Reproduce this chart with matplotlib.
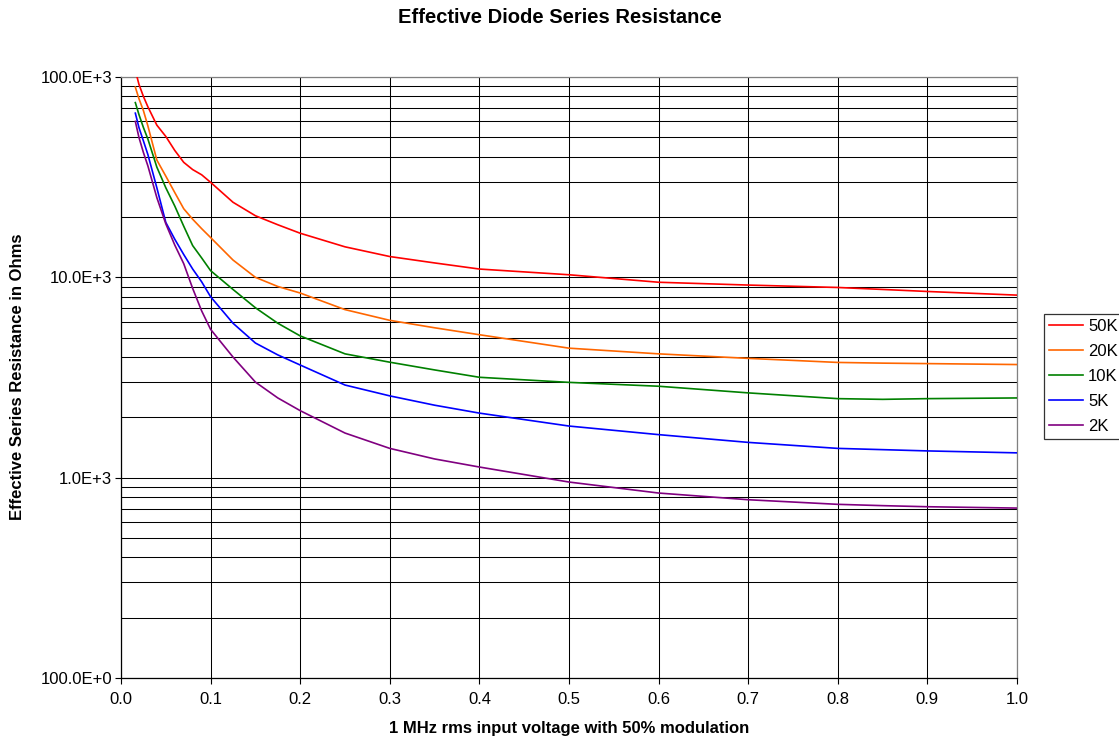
import matplotlib
matplotlib.use("Agg")
import matplotlib.pyplot as plt
from matplotlib.ticker import FixedLocator, FixedFormatter, NullFormatter

plt.rcParams['font.family'] = ['Liberation Sans', 'DejaVu Sans']

x = [0.016, 0.02, 0.025, 0.03, 0.04, 0.05, 0.06, 0.07, 0.08, 0.09, 0.1,
     0.125, 0.15, 0.175, 0.2, 0.25, 0.3, 0.35, 0.4, 0.5, 0.6, 0.7, 0.8,
     0.85, 0.9, 1.0]

r50k = [108000, 92000, 80000, 71000, 57500, 50500, 43000, 37500, 34500, 32500,
        29800, 23700, 20300, 18300, 16600, 14200, 12700, 11800, 11000, 10300,
        9450, 9150, 8900, 8700, 8500, 8150]
r20k = [89000, 78000, 68000, 57000, 38500, 32000, 26500, 22000, 19500, 17500,
        15800, 12200, 10000, 9000, 8350, 6900, 6100, 5600, 5170, 4430, 4150,
        3940, 3760, 3730, 3710, 3670]
r10k = [74500, 65000, 56000, 49000, 35500, 28000, 22700, 18000, 14400, 12500,
        10800, 8700, 7050, 5900, 5100, 4150, 3770, 3450, 3170, 2990, 2860,
        2650, 2480, 2460, 2480, 2500]
r5k = [66000, 56000, 48000, 41000, 28000, 18800, 15500, 13000, 11000, 9500,
       8000, 5900, 4700, 4100, 3650, 2900, 2560, 2300, 2100, 1810, 1640, 1500,
       1400, 1380, 1360, 1330]
r2k = [60000, 50000, 42000, 36000, 25000, 18500, 14500, 11700, 8800, 6800,
       5500, 4000, 3000, 2500, 2160, 1670, 1400, 1240, 1130, 951, 838, 776,
       736, 725, 716, 705]

series_labels = ['50K', '20K', '10K', '5K', '2K']
series_colors = ['#FF0000', '#FF6600', '#008000', '#0000FF', '#800080']
series_values = [r50k, r20k, r10k, r5k, r2k]

y_ticks = [100, 1000, 10000, 100000]
y_tick_labels = ['100.0E+0', '1.0E+3', '10.0E+3', '100.0E+3']
x_ticks = [0.0, 0.1, 0.2, 0.3, 0.4, 0.5, 0.6, 0.7, 0.8, 0.9, 1.0]
x_tick_labels = ['0.0', '0.1', '0.2', '0.3', '0.4', '0.5', '0.6', '0.7', '0.8', '0.9', '1.0']

W, H = 1119, 740
fig = plt.figure(figsize=(W / 100, H / 100), dpi=100)
L, R, T, B = 121, 1017, 77, 678
ax = fig.add_axes([L / W, 1 - B / H, (R - L) / W, (B - T) / H])

for lab, col, vals in zip(series_labels, series_colors, series_values):
    ax.plot(x, vals, color=col, lw=1.2, label=lab, zorder=3)

ax.set_yscale('log')
ax.set_xlim(0, 1.0)
ax.set_ylim(100, 100000)

ax.yaxis.set_major_locator(FixedLocator(y_ticks))
ax.yaxis.set_major_formatter(FixedFormatter(y_tick_labels))
minor = [m * 10 ** e for e in (2, 3, 4) for m in range(2, 10)]
ax.yaxis.set_minor_locator(FixedLocator(minor))
ax.yaxis.set_minor_formatter(NullFormatter())
ax.xaxis.set_major_locator(FixedLocator(x_ticks))
ax.xaxis.set_major_formatter(FixedFormatter(x_tick_labels))

ax.grid(True, which='major', axis='both', color='black', lw=0.75, zorder=1)
ax.grid(True, which='minor', axis='y', color='black', lw=0.75, zorder=1)

ax.tick_params(axis='both', which='major', direction='out', length=4,
               width=0.8, labelsize=12, colors='black')
ax.tick_params(axis='x', pad=6)
ax.tick_params(axis='y', pad=2.5)
ax.tick_params(axis='y', which='minor', length=0)

for s in ('top', 'right'):
    ax.spines[s].set_color('#808080')
for s in ('left', 'bottom'):
    ax.spines[s].set_color('black')
for s in ax.spines.values():
    s.set_linewidth(0.9)

fig.text(0.5, 1 - 17.5 / H, 'Effective Diode Series Resistance', ha='center',
         va='center', fontsize=14.5, fontweight='bold')
fig.text((L + R) / 2 / W, 1 - 729 / H, '1 MHz rms input voltage with 50% modulation',
         ha='center', va='center', fontsize=12, fontweight='bold')
fig.text(18 / W, 1 - 377 / H, 'Effective Series Resistance in Ohms',
         ha='center', va='center', rotation=90, fontsize=12, fontweight='bold')

leg = fig.legend(loc='upper left', bbox_to_anchor=(1044 / W, 1 - 314 / H),
                 frameon=True, fancybox=False, shadow=False, fontsize=12,
                 handlelength=2.05, handletextpad=0.3, labelspacing=0.6,
                 borderpad=0.3, borderaxespad=0)
leg.get_frame().set_edgecolor('black')
leg.get_frame().set_linewidth(0.9)

fig.savefig('out.png', dpi=100)
